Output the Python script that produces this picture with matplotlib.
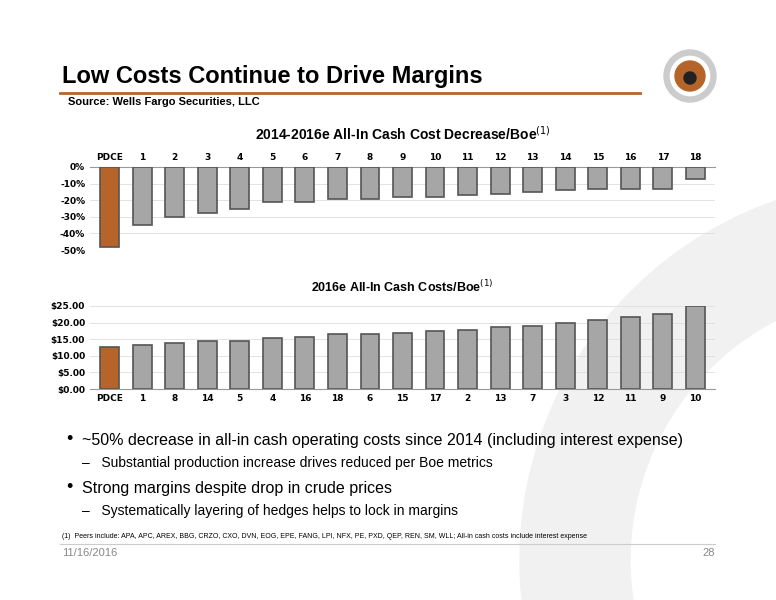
import matplotlib
matplotlib.use("Agg")
import matplotlib.pyplot as plt
from matplotlib.patches import Wedge

top_labels = ["PDCE"] + [str(i) for i in range(1, 19)]
top_values = [-48, -35, -30, -28, -25, -21, -21, -19, -19, -18, -18, -17, -16, -15, -14, -13, -13, -13, -7]
bot_labels = ["PDCE", "1", "8", "14", "5", "4", "16", "18", "6", "15", "17", "2", "13", "7", "3", "12", "11", "9", "10"]
bot_values = [12.8, 13.3, 13.9, 14.5, 14.5, 15.3, 15.6, 16.5, 16.6, 16.9, 17.5, 17.9, 18.6, 19.1, 19.9, 20.9, 21.7, 22.5, 25.0]

W, H = 776, 600
fig = plt.figure(figsize=(7.76, 6.0), dpi=100)
fig.patch.set_facecolor("white")

def fx(x): return x / W
def fy(y): return 1 - y / H

# background decorative arc
bg = fig.add_axes([0, 0, 1, 1], zorder=-5)
bg.set_xlim(0, W); bg.set_ylim(H, 0); bg.axis("off")
bg.add_patch(Wedge((900, 560), 380, 150, 260, width=110, color="#f1f1f1"))

fig.text(fx(62), fy(76), "Low Costs Continue to Drive Margins", fontsize=17, fontweight="bold", va="center", family="Liberation Sans")
fig.add_artist(plt.Line2D([fx(60), fx(640)], [fy(93), fy(93)], color="#b5652a", lw=2))
fig.text(fx(68), fy(102), "Source: Wells Fargo Securities, LLC", fontsize=8, fontweight="bold", va="center", family="Liberation Sans")
# logo
bg.add_patch(Wedge((690, 76), 26, 0, 360, width=5, color="#cccccc"))
bg.add_patch(Wedge((690, 76), 15, 0, 360, color="#b5652a"))
bg.add_patch(Wedge((690, 78), 6, 0, 360, color="#222222"))

def bars(ax, labels, values, colors):
    x = range(len(values))
    ax.bar(x, values, width=0.58, color=colors, edgecolor="#555555", linewidth=1.2, zorder=3)
    ax.set_xlim(-0.6, len(values) - 0.4)
    ax.set_xticks(list(x)); ax.set_xticklabels(labels, fontsize=6.5, fontweight="bold", family="Liberation Sans Narrow")
    ax.tick_params(length=0)
    for s in ["top", "right", "left"]:
        ax.spines[s].set_visible(False)
    ax.spines["bottom"].set_color("#999999")
    ax.grid(axis="y", color="#dddddd", lw=0.6, zorder=0)
    ax.set_facecolor("none")
    for t in ax.get_yticklabels():
        t.set_fontsize(6.5); t.set_fontweight("bold")

cols = ["#b5652a"] + ["#a6a6a6"] * 18

ax1 = fig.add_axes([fx(90), fy(250), fx(625), fy(167) - fy(250)])
bars(ax1, top_labels, top_values, cols)
ax1.set_ylim(-50, 0)
ax1.set_yticks([0, -10, -20, -30, -40, -50])
ax1.set_yticklabels(["0%", "-10%", "-20%", "-30%", "-40%", "-50%"], fontsize=6.5, fontweight="bold")
ax1.xaxis.tick_top()
ax1.spines["bottom"].set_visible(False); ax1.spines["top"].set_visible(True); ax1.spines["top"].set_color("#999999")
ax1.set_title("2014-2016e All-In Cash Cost Decrease/Boe$^{(1)}$", fontsize=10, fontweight="bold", pad=20, family="Liberation Sans")

ax2 = fig.add_axes([fx(90), fy(389), fx(625), fy(306) - fy(389)])
bars(ax2, bot_labels, bot_values, cols)
ax2.set_ylim(0, 25)
ax2.set_yticks([0, 5, 10, 15, 20, 25])
ax2.set_yticklabels(["$0.00", "$5.00", "$10.00", "$15.00", "$20.00", "$25.00"], fontsize=6.5, fontweight="bold")
ax2.set_title("2016e All-In Cash Costs/Boe$^{(1)}$", fontsize=9, fontweight="bold", pad=10, family="Liberation Sans")

txt = dict(family="Liberation Sans", va="center")
fig.text(fx(66), fy(440), "•", fontsize=13, **txt)
fig.text(fx(82), fy(440), "~50% decrease in all-in cash operating costs since 2014 (including interest expense)", fontsize=11.5, **txt)
fig.text(fx(82), fy(463), "–   Substantial production increase drives reduced per Boe metrics", fontsize=10, **txt)
fig.text(fx(66), fy(488), "•", fontsize=13, **txt)
fig.text(fx(82), fy(488), "Strong margins despite drop in crude prices", fontsize=11.5, **txt)
fig.text(fx(82), fy(511), "–   Systematically layering of hedges helps to lock in margins", fontsize=10, **txt)
fig.text(fx(62), fy(537), "(1)  Peers include: APA, APC, AREX, BBG, CRZO, CXO, DVN, EOG, EPE, FANG, LPI, NFX, PE, PXD, QEP, REN, SM, WLL; All-in cash costs include interest expense",
         fontsize=5, **txt)
fig.add_artist(plt.Line2D([fx(60), fx(715)], [fy(544), fy(544)], color="#cccccc", lw=0.8))
fig.text(fx(62), fy(553), "11/16/2016", fontsize=8, color="#888888", **txt)
fig.text(fx(715), fy(553), "28", fontsize=8, color="#888888", ha="right", family="Liberation Sans", va="center")

fig.savefig("out.png", dpi=100)
